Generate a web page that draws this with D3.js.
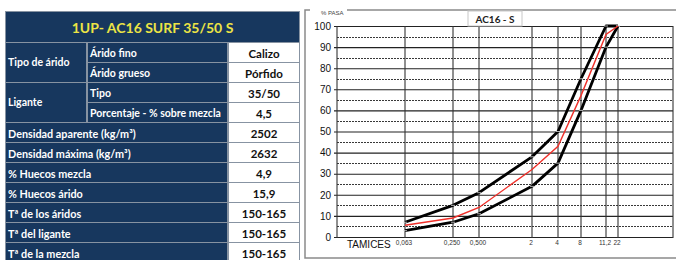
<!DOCTYPE html>
<html>
<head>
<meta charset="utf-8">
<script src="https://cdn.jsdelivr.net/npm/d3@7"></script>
<style>
  body { margin: 0; background: #fff; }
  svg { display: block; }
</style>
</head>
<body>
<div id="chart"></div>
<script>
// table data
var tableTitle = "1UP- AC16 SURF 35/50 S";
var groupNames = ["Tipo de árido", "Ligante"];
var groupItems = [["Árido fino", "Árido grueso"], ["Tipo", "Porcentaje - % sobre mezcla"]];
var groupValues = [["Calizo", "Pórfido"], ["35/50", "4,5"]];
var propLabels = ["Densidad aparente (kg/m³)", "Densidad máxima (kg/m³)", "% Huecos mezcla",
    "% Huecos árido", "Tª de los áridos", "Tª del ligante", "Tª de la mezcla"];
var propValues = ["2502", "2632", "4,9", "15,9", "150-165", "150-165", "150-165"];

// chart data
var chartTitle = "AC16 - S";
var sieves = [0.063, 0.25, 0.5, 2, 4, 8, 11.2, 22];
var sieveLabels = ["0,063", "0,250", "0,500", "2", "4", "8", "11,2", "22"];
var upperLimit = [7, 15, 21, 38, 50, 75, 100, 100];
var lowerLimit = [3, 7, 11, 24, 35, 60, 90, 100];
var mixCurve = [5.6, 9, 14, 32, 43, 67, 96, 100];
var yTicks = [0, 10, 20, 30, 40, 50, 60, 70, 80, 90, 100];
var yHalfTicks = [5, 15, 25, 35, 45, 55, 65, 75, 85, 95];

var W = 676, H = 260;
var navy = "#17375e", borderCol = "#8793a2";

var svg = d3.select("#chart").append("svg")
    .attr("width", W)
    .attr("height", H);

/*
    table
*/
var tab = { x0: 5, c1: 87, c2: 228, x1: 300, top: 11, head: 42, rowH: 20 };
var rowTop = function(i) { return tab.head + i * tab.rowH; };

var t = svg.append("g");
t.append("rect")
    .attr("x", tab.x0).attr("y", tab.top)
    .attr("width", tab.x1 - tab.x0).attr("height", H - tab.top + 5)
    .attr("fill", borderCol);

function cell(x0, y0, x1, y1, fill) {
    t.append("rect")
        .attr("x", x0 + 1).attr("y", y0 + 1)
        .attr("width", x1 - x0 - 2).attr("height", y1 - y0 - 2)
        .attr("fill", fill);
}
function label(x, y, txt, opts) {
    t.append("text")
        .attr("x", x).attr("y", y)
        .attr("text-anchor", opts.anchor || "start")
        .attr("dominant-baseline", "central")
        .attr("font-family", "Lato, 'Open Sans', sans-serif")
        .attr("font-weight", "bold")
        .attr("font-size", opts.size)
        .attr("fill", opts.fill)
        .text(txt);
}

// title row
cell(tab.x0, tab.top, tab.x1, tab.head + 1, navy);
label((tab.x0 + tab.x1) / 2, (tab.top + tab.head) / 2 + 1, tableTitle,
    { anchor: "middle", size: 14, fill: "#ece445" });

var r = 0;
groupNames.forEach(function(g, gi) {
    var n = groupItems[gi].length;
    cell(tab.x0, rowTop(r), tab.c1, rowTop(r + n) + 1, navy);
    label(tab.x0 + 3, (rowTop(r) + rowTop(r + n)) / 2, g, { size: 10.5, fill: "#fff" });
    groupItems[gi].forEach(function(it, k) {
        var y0 = rowTop(r + k), y1 = rowTop(r + k + 1);
        cell(tab.c1, y0, tab.c2, y1 + 1, navy);
        label(tab.c1 + 3, (y0 + y1) / 2 + 1, it, { size: 10.5, fill: "#fff" });
        cell(tab.c2, y0, tab.x1, y1 + 1, "#fff");
        label((tab.c2 + tab.x1) / 2, (y0 + y1) / 2 + 1, groupValues[gi][k],
            { anchor: "middle", size: 11.5, fill: "#111" });
    });
    r += n;
});

propLabels.forEach(function(p, i) {
    var y0 = rowTop(r + i), y1 = rowTop(r + i + 1);
    cell(tab.x0, y0, tab.c2, y1 + 1, navy);
    label(tab.x0 + 3, (y0 + y1) / 2 + 1, p, { size: 10.8, fill: "#fff" });
    cell(tab.c2, y0, tab.x1, y1 + 1, "#fff");
    label((tab.c2 + tab.x1) / 2, (y0 + y1) / 2 + 1, propValues[i],
        { anchor: "middle", size: 11.5, fill: "#111" });
});

/*
    chart
*/
var plot = { left: 337, right: 673, top: 26, bottom: 237 };
// sieve grid lines are not evenly spaced on the original sheet
var sieveX = [405, 453, 479, 532, 558, 581, 606, 618];

var x = d3.scaleLinear().domain(sieves).range(sieveX);
var y = d3.scaleLinear().domain([0, 100]).range([plot.bottom, plot.top]);

var c = svg.append("g");

// group box frame with caption
c.append("path")
    .attr("d", "M310,10H305V258H676M347,10H676")
    .attr("fill", "none")
    .attr("stroke", "#8a8a8a")
    .attr("stroke-width", 1.5);
c.append("text")
    .attr("x", 321).attr("y", 15)
    .attr("font-family", "'Liberation Sans Narrow', 'Liberation Sans', sans-serif")
    .attr("font-size", 6)
    .attr("fill", "#444")
    .text("% PASA");

// dashed half gridlines
c.append("g")
    .selectAll("line")
    .data(yHalfTicks)
    .enter().append("line")
    .attr("x1", plot.left).attr("x2", plot.right)
    .attr("y1", function(d) { return Math.round(y(d)) + 0.5; })
    .attr("y2", function(d) { return Math.round(y(d)) + 0.5; })
    .attr("stroke", "#222")
    .attr("stroke-width", 0.9)
    .attr("stroke-dasharray", "2,1");

// solid gridlines + labels
var yAxis = d3.axisLeft(y)
    .tickValues(yTicks)
    .tickSize(-(plot.right - plot.left))
    .tickPadding(6)
    .tickFormat(d3.format("d"));

c.append("g")
    .attr("transform", "translate(" + plot.left + ",0)")
    .call(yAxis)
    .call(function(g) { g.select(".domain").remove(); })
    .call(function(g) {
        g.selectAll(".tick line")
            .attr("x1", -3)
            .attr("stroke", "#222")
            .attr("stroke-width", 1.1);
        g.selectAll(".tick text")
            .attr("font-family", "'Liberation Sans Narrow', 'Liberation Sans', sans-serif")
            .attr("font-size", 10)
            .attr("fill", "#111");
    });

// vertical lines: y axis, sieves, right edge
var vLines = [plot.left].concat(sieves.map(function(s) { return x(s); }), [plot.right]);
c.append("g")
    .selectAll("line")
    .data(vLines)
    .enter().append("line")
    .attr("x1", function(d) { return d; }).attr("x2", function(d) { return d; })
    .attr("y1", plot.top).attr("y2", plot.bottom + 1)
    .attr("stroke", "#333")
    .attr("stroke-width", 1.1);

// sieve labels
c.append("g")
    .selectAll("text")
    .data(sieves)
    .enter().append("text")
    .attr("x", function(d) { return x(d) - 1; })
    .attr("y", 245)
    .attr("text-anchor", "middle")
    .attr("font-family", "'Liberation Sans Narrow', 'Liberation Sans', sans-serif")
    .attr("font-size", 6.5)
    .attr("fill", "#333")
    .text(function(d, i) { return sieveLabels[i]; });

c.append("text")
    .attr("x", 347).attr("y", 248)
    .attr("font-family", "'Liberation Sans Narrow', 'Liberation Sans', sans-serif")
    .attr("font-size", 10)
    .attr("fill", "#111")
    .text("TAMICES");

// curves
var line = d3.line()
    .x(function(d, i) { return x(sieves[i]); })
    .y(function(d) { return y(d); });

[upperLimit, lowerLimit].forEach(function(s) {
    c.append("path")
        .attr("d", line(s))
        .attr("fill", "none")
        .attr("stroke", "#000")
        .attr("stroke-width", 2.8)
        .attr("stroke-linejoin", "round");
    c.append("g")
        .selectAll("line")
        .data(s)
        .enter().append("line")
        .attr("x1", function(d, i) { return x(sieves[i]) - 2; })
        .attr("x2", function(d, i) { return x(sieves[i]) + 2; })
        .attr("y1", function(d) { return y(d); })
        .attr("y2", function(d) { return y(d); })
        .attr("stroke", "#ddd")
        .attr("stroke-width", 0.8);
});

c.append("path")
    .attr("d", line(mixCurve))
    .attr("fill", "none")
    .attr("stroke", "#f0302a")
    .attr("stroke-width", 1.4);

// title box
c.append("rect")
    .attr("x", 468).attr("y", 11)
    .attr("width", 54).attr("height", 15)
    .attr("fill", "#fff")
    .attr("stroke", "#c8c8c8");
c.append("text")
    .attr("x", 495).attr("y", 22.5)
    .attr("text-anchor", "middle")
    .attr("font-family", "Lato, sans-serif")
    .attr("font-weight", "bold")
    .attr("font-size", 10)
    .attr("fill", "#222")
    .text(chartTitle);
</script>
</body>
</html>
